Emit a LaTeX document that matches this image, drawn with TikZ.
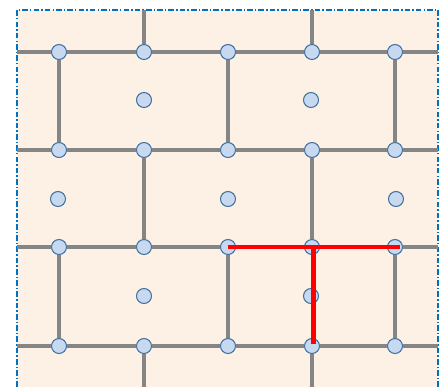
\documentclass[tikz,border=0pt]{standalone}
\usetikzlibrary{positioning}
\definecolor{brickbg}{HTML}{FDF0E4}
\definecolor{brickedge}{HTML}{0070C0}
\definecolor{wallgray}{HTML}{858585}
\definecolor{dotfill}{HTML}{C6D9F1}
\definecolor{dotdraw}{HTML}{41719C}
\tikzset{
  site/.style={circle, draw=dotdraw, fill=dotfill, line width=0.6pt,
               minimum size=0.3cm, inner sep=0pt},
  wall/.style={wallgray, line width=1.9pt},
  cut/.style={red, line width=2.3pt}
}

\begin{document}
\begin{tikzpicture}[x=0.02cm, y=-0.02cm]
    \useasboundingbox (0,0) rectangle (446,387);
    \fill[brickbg] (17,10) rectangle (438,387);
    \draw[brickedge, line width=0.7pt,
          dash pattern=on 3.2pt off 1.2pt on 0.8pt off 1.2pt]
          (17,387) -- (17,10) -- (438,10) -- (438,387);

    % lattice sites
    \node[site] (a1) at (59,52) {};
    \node[site] (b1) at (144,52) {};
    \node[site] (c1) at (228,52) {};
    \node[site] (d1) at (312,52) {};
    \node[site] (e1) at (395,52) {};
    \node[site] (b2) at (144,100) {};
    \node[site] (d2) at (311,100) {};
    \node[site] (a3) at (59,150) {};
    \node[site] (b3) at (144,150) {};
    \node[site] (c3) at (228,150) {};
    \node[site] (d3) at (312,150) {};
    \node[site] (e3) at (395,150) {};
    \node[site] (a4) at (58,199) {};
    \node[site] (c4) at (228,199) {};
    \node[site] (e4) at (396,199) {};
    \node[site] (a5) at (59,247) {};
    \node[site] (b5) at (144,247) {};
    \node[site] (c5) at (228,247) {};
    \node[site] (d5) at (312,247) {};
    \node[site] (e5) at (395,247) {};
    \node[site] (b6) at (144,296) {};
    \node[site] (d6) at (311,296) {};
    \node[site] (a7) at (59,346) {};
    \node[site] (b7) at (144,346) {};
    \node[site] (c7) at (228,346) {};
    \node[site] (d7) at (312,346) {};
    \node[site] (e7) at (395,346) {};

    % free ends on the border
    \coordinate (l1) at (17,52);   \coordinate (r1) at (438,52);
    \coordinate (l3) at (17,150);  \coordinate (r3) at (438,150);
    \coordinate (l5) at (17,247);  \coordinate (r5) at (438,247);
    \coordinate (l7) at (17,346);  \coordinate (r7) at (438,346);
    \coordinate (tb) at (144,10);  \coordinate (td) at (312,10);
    \coordinate (bb) at (144,387); \coordinate (bd) at (312,387);

    % walls
    \draw[wall] (l1) -- (a1) -- (b1) -- (c1) -- (d1) -- (e1) -- (r1);
    \draw[wall] (l3) -- (a3) -- (b3) -- (c3) -- (d3) -- (e3) -- (r3);
    \draw[wall] (l5) -- (a5) -- (b5) -- (c5) -- (d5) -- (e5) -- (r5);
    \draw[wall] (l7) -- (a7) -- (b7) -- (c7) -- (d7) -- (e7) -- (r7);
    \draw[wall] (tb) -- (b1) (td) -- (d1) (b7) -- (bb) (d7) -- (bd);
    \draw[wall] (a1) -- (a3) (c1) -- (c3) (e1) -- (e3);
    \draw[wall] (b3) -- (b5) (d3) -- (d5);
    \draw[wall] (a5) -- (a7) (c5) -- (c7) (e5) -- (e7);

    % cut
    \draw[cut] (c5.center) -- ([xshift=0.1cm]e5.center);
    \draw[cut] ([xshift=0.03cm]d5.center) -- ([xshift=0.03cm,yshift=0.04cm]d7.center);
  \end{tikzpicture}
\end{document}
